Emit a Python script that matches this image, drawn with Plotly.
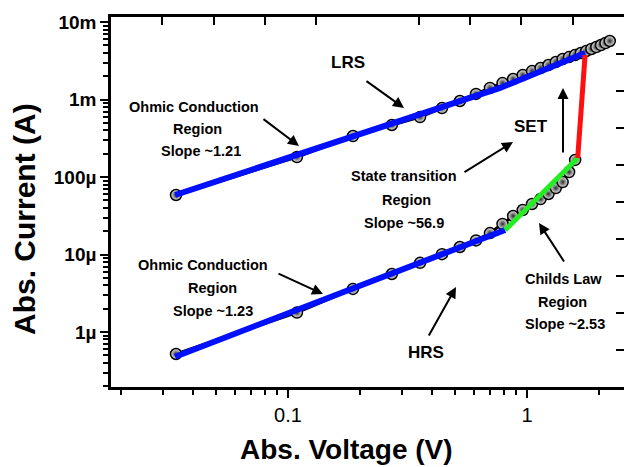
import plotly.graph_objects as go

# ---------------- data ----------------
voltage = [0.034, 0.109, 0.187, 0.272, 0.357, 0.441, 0.524, 0.612, 0.70, 0.79,
           0.875, 0.96, 1.05, 1.14, 1.23, 1.32, 1.41, 1.50, 1.59, 1.68,
           1.77, 1.86, 1.95, 2.04, 2.13, 2.22]
lrs_current = [5.86e-5, 1.81e-4, 3.38e-4, 4.69e-4, 5.94e-4, 7.76e-4, 9.57e-4, 1.18e-3,
               1.41e-3, 1.63e-3, 1.84e-3, 2.07e-3, 2.33e-3, 2.55e-3, 2.79e-3, 3.05e-3,
               3.33e-3, 3.53e-3, 3.75e-3, 3.98e-3, 4.23e-3, 4.49e-3, 4.76e-3, 5.05e-3,
               5.36e-3, 5.69e-3]
hrs_voltage = voltage[:19]
hrs_current = [5.2e-7, 1.78e-6, 3.6e-6, 5.6e-6, 7.8e-6, 1.01e-5, 1.25e-5, 1.52e-5,
               1.89e-5, 2.48e-5, 3.14e-5, 3.75e-5, 4.49e-5, 5.2e-5, 6.04e-5, 7.2e-5,
               8.6e-5, 1.16e-4, 1.66e-4]

lrs_fit_v = [0.0337, 0.182, 0.771, 1.75]
lrs_fit_i = [5.86e-5, 3.19e-4, 1.41e-3, 3.98e-3]
hrs_ohmic_fit_v = [0.0337, 0.81]
hrs_ohmic_fit_i = [4.8e-7, 2.07e-5]
childs_fit_v = [0.81, 1.63]
childs_fit_i = [2.07e-5, 1.76e-4]
set_fit_v = [1.63, 1.75]
set_fit_i = [1.76e-4, 3.75e-3]

y_tick_vals = [1e-6, 1e-5, 1e-4, 1e-3, 1e-2]
y_tick_text = ["1µ", "10µ", "100µ", "1m", "10m"]
x_tick_vals = [0.1, 1]
x_tick_text = ["0.1", "1"]
y_minor_vals = [m * 10.0 ** e for e in range(-7, -2) for m in range(2, 10)]
x_minor_vals = [m * 10.0 ** e for e in range(-2, 1) for m in range(2, 10)]
top_tick_vals = [1, 2, 3, 4, 6, 7, 8, 9]
right_tick_vals = [1, 2, 3, 4, 5, 6, 7, 8, 9]

# ---------------- geometry helpers ----------------
W, H = 624, 467
L, R, T, B = 111, 0, 17, 80
PW, PH = W - L - R, H - T - B

def px(x):
    return (x - L) / PW

def py(y):
    return (H - B - y) / PH

FONT = "Liberation Sans, Arial, sans-serif"

fig = go.Figure()

marker_style = dict(size=11, color="#f2f2f2",
                    gradient=dict(type="radial", color="#2a2a2a"),
                    line=dict(color="black", width=1.5))

fig.add_trace(go.Scatter(x=hrs_voltage, y=hrs_current, mode="lines+markers",
                         line=dict(color="black", width=3), marker=marker_style,
                         showlegend=False))
fig.add_trace(go.Scatter(x=voltage, y=lrs_current, mode="lines+markers",
                         line=dict(color="black", width=3), marker=marker_style,
                         showlegend=False))
fig.add_trace(go.Scatter(x=lrs_fit_v, y=lrs_fit_i, mode="lines",
                         line=dict(color="#0010ff", width=6), showlegend=False))
fig.add_trace(go.Scatter(x=hrs_ohmic_fit_v, y=hrs_ohmic_fit_i, mode="lines",
                         line=dict(color="#0010ff", width=6), showlegend=False))
fig.add_trace(go.Scatter(x=childs_fit_v, y=childs_fit_i, mode="lines",
                         line=dict(color="#22ee22", width=5), showlegend=False))
fig.add_trace(go.Scatter(x=set_fit_v, y=set_fit_i, mode="lines",
                         line=dict(color="#ff1010", width=5), showlegend=False))
# empty trace so the secondary (frame) axes render
fig.add_trace(go.Scatter(x=[], y=[], xaxis="x2", yaxis="y2", showlegend=False))

annotations = []

def text(x, y, s, size=14.5, angle=0):
    annotations.append(dict(xref="paper", yref="paper", x=px(x), y=py(y), text=s,
                            showarrow=False, xanchor="center", yanchor="middle",
                            textangle=angle,
                            font=dict(family=FONT, size=size, color="black", weight="bold")))

def arrow(x0, y0, x1, y1):
    annotations.append(dict(xref="paper", yref="paper", x=px(x1), y=py(y1), text="",
                            showarrow=True, ax=x0 - x1, ay=y0 - y1,
                            arrowhead=2, arrowsize=1.1, arrowwidth=2,
                            arrowcolor="black", standoff=0, startstandoff=0))

# upper ohmic
text(194, 107, "Ohmic Conduction")
text(197, 129, "Region")
text(201, 151, "Slope ~1.21")
arrow(262, 118, 299, 146)
# LRS
text(348, 63, "LRS", size=17)
arrow(365, 80, 404, 108)
# SET
text(531, 127, "SET", size=17)
arrow(463, 173, 513, 142)
arrow(563, 154, 563, 88)
# state transition
text(404, 176, "State transition")
text(406, 200, "Region")
text(404, 223, "Slope ~56.9")
# lower ohmic
text(203, 265, "Ohmic Conduction")
text(212, 288, "Region")
text(213, 311, "Slope ~1.23")
arrow(277, 273, 323, 294)
# HRS
text(426, 352, "HRS", size=17)
arrow(428, 337, 456, 287)
# Childs law
text(563, 279, "Childs Law")
text(562, 302, "Region")
text(565, 324, "Slope ~2.53")
arrow(565, 263, 539, 223)
# axis titles
text(346, 449, "Abs. Voltage (V)", size=28)
text(24, 219, "Abs. Current (A)", size=30, angle=-90)

fig.update_layout(
    width=W, height=H,
    margin=dict(l=L, r=R, t=T, b=B, pad=0),
    paper_bgcolor="white", plot_bgcolor="white",
    font=dict(family=FONT, color="black"),
    annotations=annotations,
    xaxis=dict(type="log", range=[-1.7406, 0.4059], tickmode="array",
               tickvals=x_tick_vals, ticktext=x_tick_text,
               ticks="outside", ticklen=8, tickwidth=2, tickcolor="black",
               minor=dict(tickmode="array", tickvals=x_minor_vals, ticks="outside",
                          ticklen=5, tickwidth=1.5, tickcolor="black", showgrid=False),
               tickfont=dict(family=FONT, size=20, color="black"),
               showline=True, linewidth=2.5, linecolor="black",
               showgrid=False, zeroline=False),
    yaxis=dict(type="log", range=[-6.710, -1.935], tickmode="array",
               tickvals=y_tick_vals, ticktext=y_tick_text,
               ticks="outside", ticklen=8, tickwidth=2, tickcolor="black",
               minor=dict(tickmode="array", tickvals=y_minor_vals, ticks="outside",
                          ticklen=5, tickwidth=1.5, tickcolor="black", showgrid=False),
               tickfont=dict(family=FONT, size=19, color="black", weight="bold"),
               showline=True, linewidth=2.5, linecolor="black",
               showgrid=False, zeroline=False),
    xaxis2=dict(overlaying="x", side="top", anchor="y", range=[0, 10],
                tickmode="array", tickvals=top_tick_vals, ticks="inside",
                ticklen=8, tickwidth=2, tickcolor="black", showticklabels=False,
                showline=True, linewidth=2.5, linecolor="black",
                showgrid=False, zeroline=False),
    yaxis2=dict(overlaying="y", side="right", anchor="x", range=[0, 10],
                tickmode="array", tickvals=right_tick_vals, ticks="inside",
                ticklen=8, tickwidth=2, tickcolor="black", showticklabels=False,
                showline=True, linewidth=2.5, linecolor="black",
                showgrid=False, zeroline=False),
)

fig.write_html("out.html")
